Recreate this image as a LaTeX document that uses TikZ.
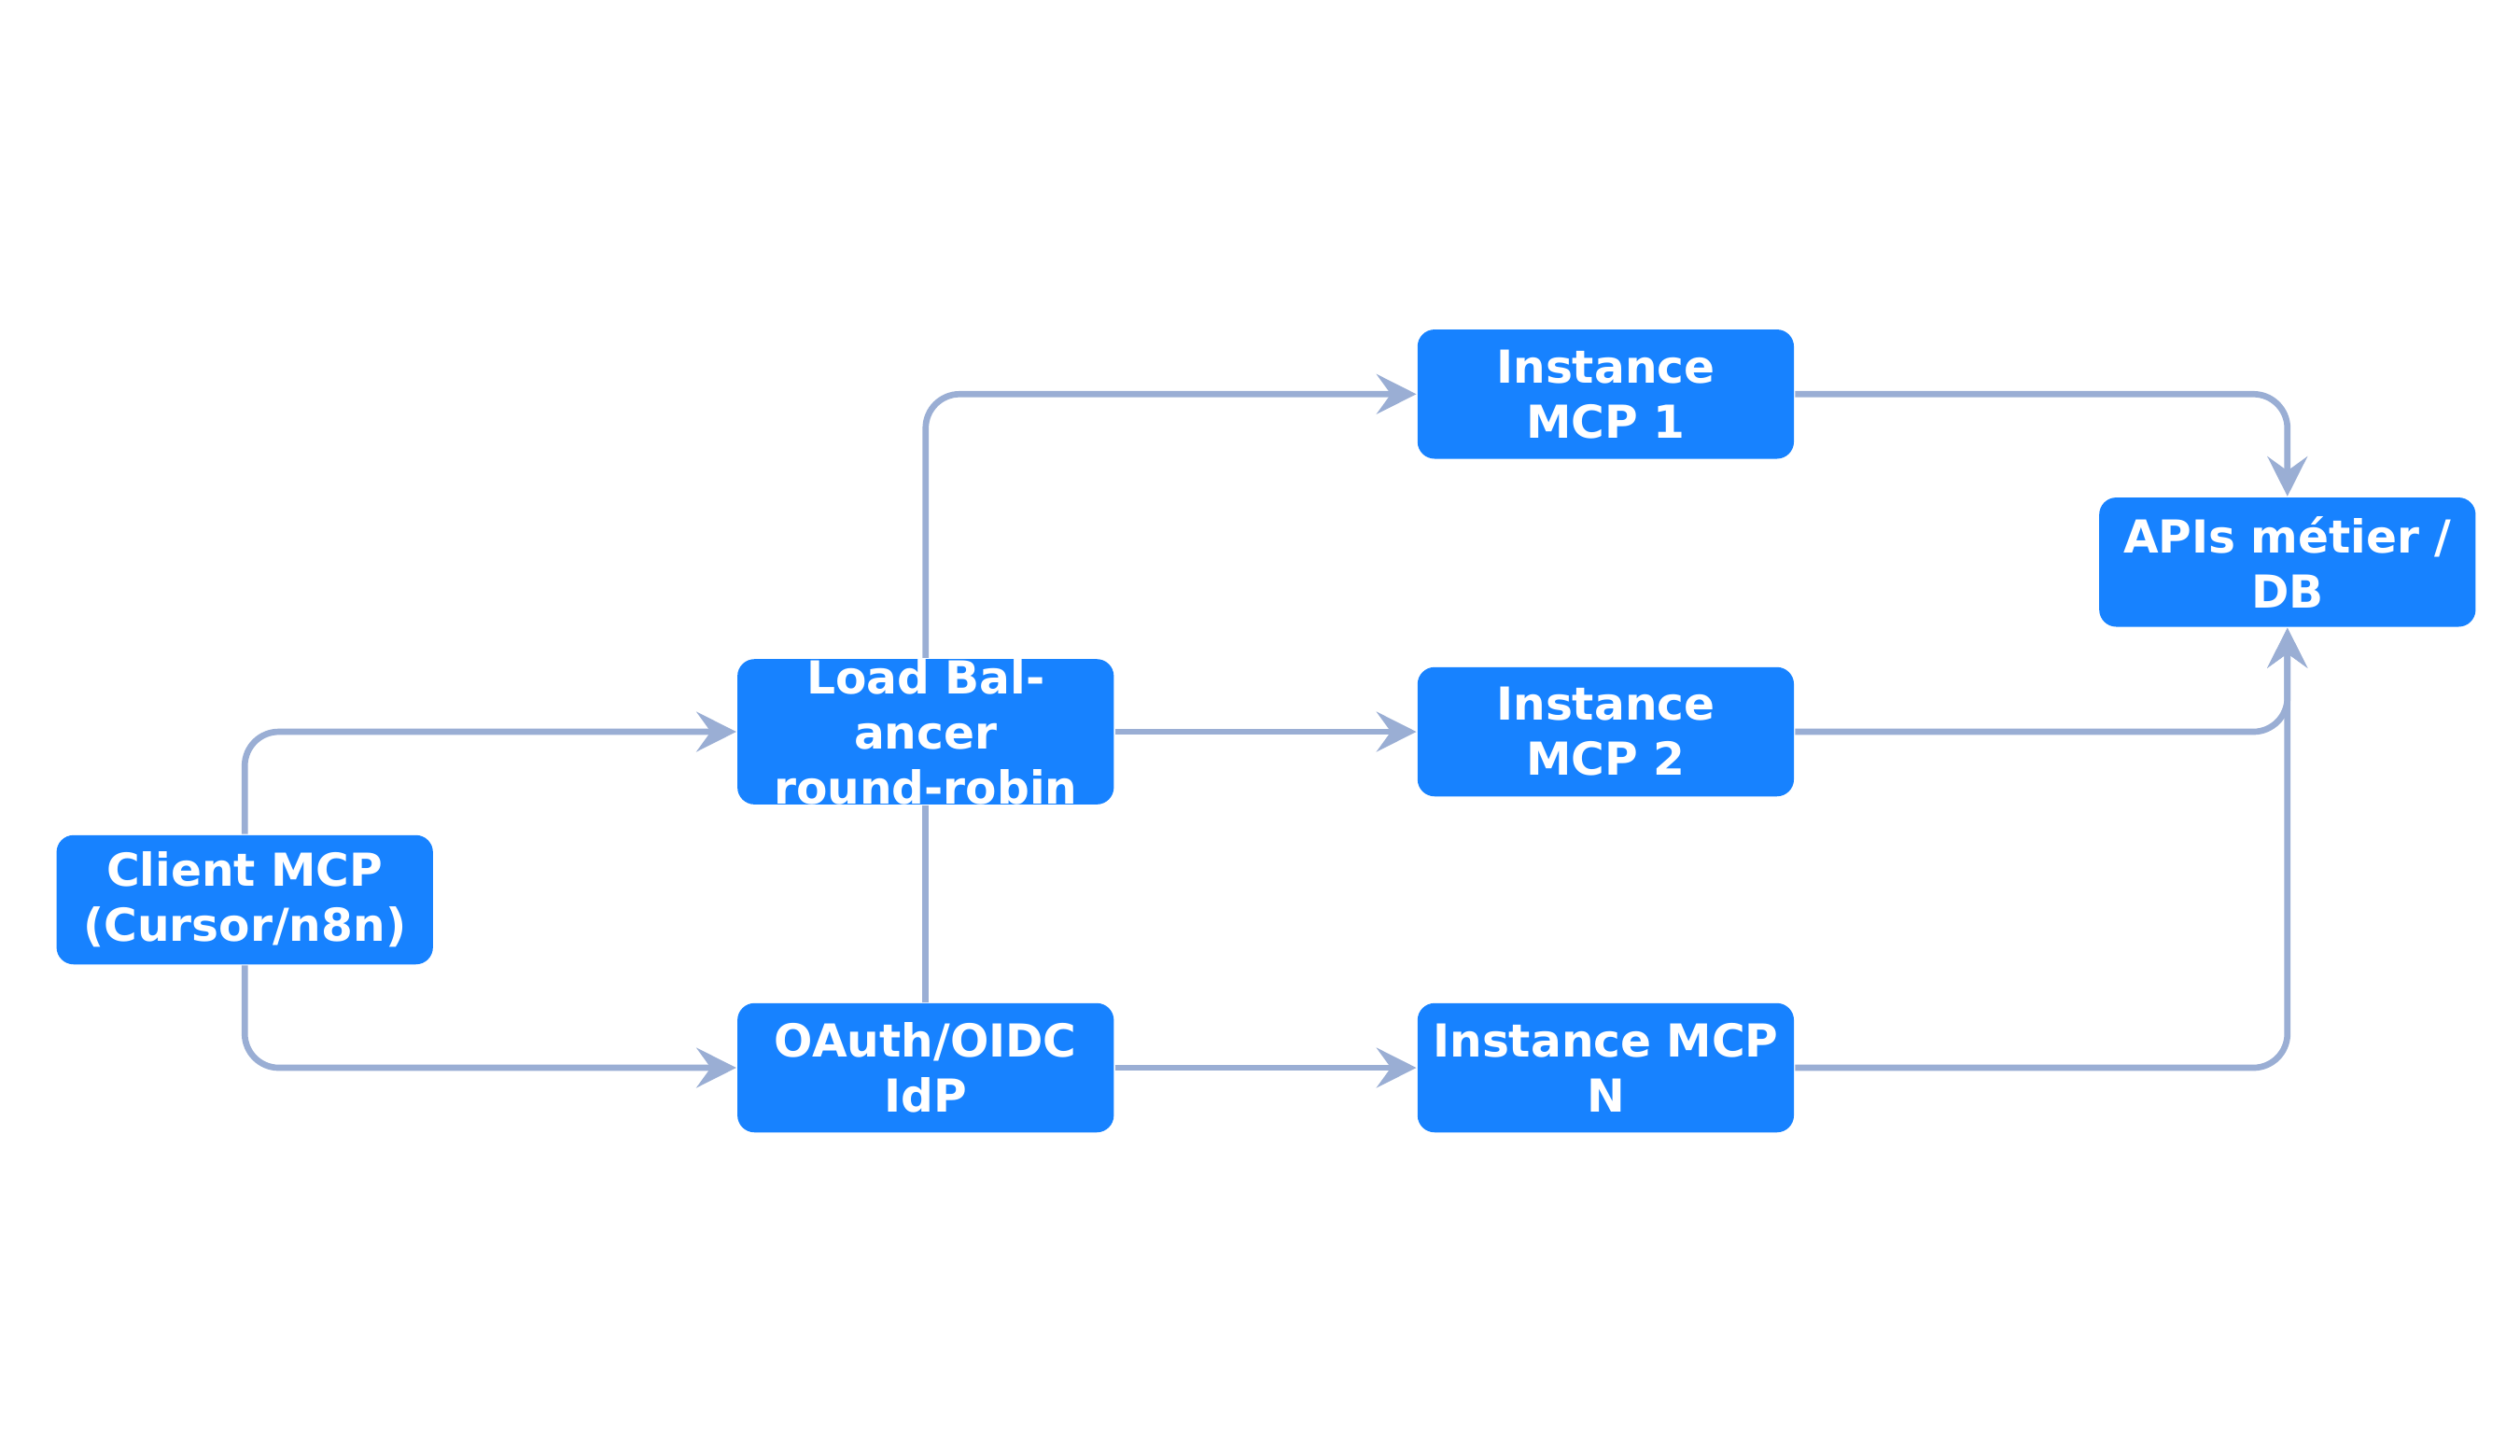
\documentclass[tikz,border=0pt]{standalone}
\usepackage{fontspec}
\setmainfont{DejaVu Sans}
\usetikzlibrary{arrows.meta,positioning}
\definecolor{boxblue}{HTML}{1782FF}
\definecolor{linkgrey}{HTML}{9AAED4}
\tikzset{
  box/.style  = {draw=none, fill=boxblue, rounded corners=3pt, minimum width=2.33cm,
                 minimum height=0.8cm, text width=2.2cm, align=center, inner sep=0pt,
                 text=white, font=\bfseries\fontsize{8}{9.7}\selectfont},
  link/.style = {draw=linkgrey, line width=1.1pt, rounded corners=6pt,
                 -{Stealth[length=7pt,width=7pt,inset=2.5pt]}}
}
\begin{document}
\begin{tikzpicture}
\useasboundingbox (0,0) rectangle (15.6,9.01);

% colonne de gauche
\node[box] (client) at (1.515,3.44) {Client MCP\\(Cursor/n8n)};
\node[box] (lb)     at (5.73,4.48)  {Load Balancer\\round-robin};
\node[box] (idp)    at (5.73,2.40)  {OAuth/OIDC\\IdP};

% instances
\node[box] (inst1) at (9.94,6.57) {Instance MCP 1};
\node[box] (inst2) at (9.94,4.48) {Instance MCP 2};
\node[box] (instN) at (9.94,2.40) {Instance MCP\\N};

\node[box] (api) at (14.16,5.53) {APIs métier /\\DB};

\draw[link] (client.north) |- (lb.west);
\draw[link] (client.south) |- (idp.west);
\draw[link] (lb.north) |- (inst1.west);
\draw[link] (lb.east) -- (inst2.west);
\draw[link, -] (lb.south) -- (idp.north);
\draw[link] (idp.east) -- (instN.west);

\draw[link] (inst1.east) -| (api.north);
\draw[link] (inst2.east) -| (api.south);
\draw[link] (instN.east) -| (api.south);
\end{tikzpicture}
\end{document}
